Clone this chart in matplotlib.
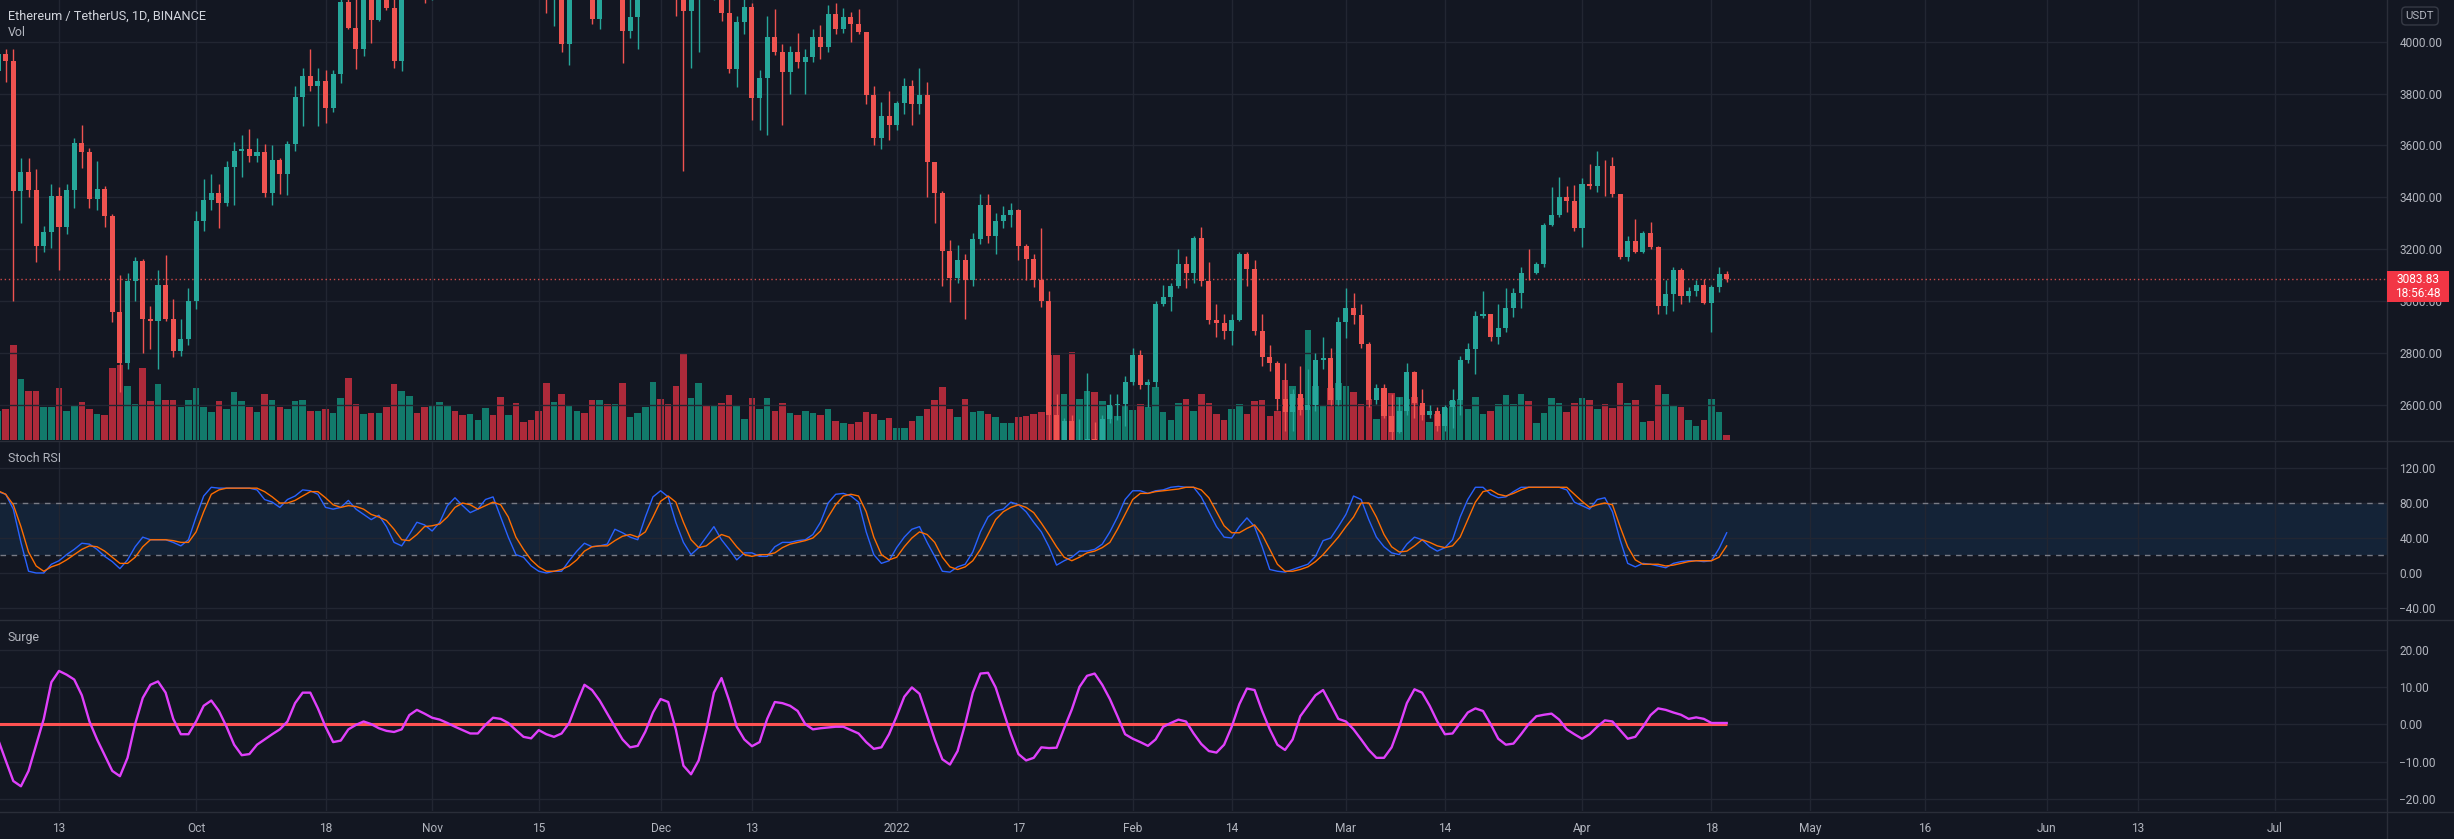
import numpy as np
import pandas as pd
import matplotlib
matplotlib.use("Agg")
import matplotlib.pyplot as plt
import matplotlib.dates as mdates
from matplotlib.patches import Rectangle
from matplotlib.lines import Line2D

# ---------------- DATA (ETH/USDT daily, 2021-09-05 .. 2022-04-20) ----------------
start_date = "2021-09-05"
end_date = "2022-04-20"

opens = [
    3887,3952,3927,3426,3497,3427,3211,3267,3407,3287,3427,3610,3573,3395,3432,3329,2958,2762,3077,3155,2930,2925,3062,2932,2807,2853,
    3001,3307,3391,3418,3380,3517,3580,3587,3560,3575,3415,3544,3490,3606,3788,3866,3829,3847,3745,3876,4155,4054,3973,4170,4083,4217,4131,3924,4287,4414,4325,
    4288,4324,4589,4603,4535,4475,4518,4611,4807,4730,4628,4720,4667,4647,4625,4561,4214,4290,3992,4294,4410,4264,4086,4337,4271,4523,4040,4096,4294,4444,
    4631,4586,4511,4220,4119,4198,4346,4308,4432,4110,3894,4075,4134,3784,3861,4020,3961,3885,3960,3922,3940,4019,3981,4108,4048,4094,4067,4036,3794,3627,3713,
    3677,3765,3829,3761,3794,3538,3418,3193,3090,3157,3083,3238,3372,3250,3310,3330,3350,3212,3163,3083,3001,2562,2406,2539,2441,2458,2467,2423,2546,2599,2603,
    2688,2791,2677,2690,2989,3015,3057,3142,3110,3242,3077,2927,2915,2883,2929,3180,3123,2885,2784,2763,2623,2572,2640,2581,2598,2774,2780,2617,
    2920,2972,2948,2834,2617,2664,2556,2496,2575,2727,2606,2559,2576,2519,2591,2620,2772,2815,2944,2949,2860,2896,2972,3031,3108,3107,3143,3295,3331,3400,3384,
    3282,3452,3444,3521,3519,3411,3170,3230,3190,3262,3210,2981,3029,3118,3019,3040,3061,2993,3055,3103,
]
highs = [
    3975,3970,3970,3550,3550,3510,3290,3450,3438,3450,3630,3680,3590,3540,3444,3337,3100,3110,3170,3163,2980,3120,3176,3008,2930,3050,
    3347,3470,3490,3450,3542,3615,3640,3665,3630,3607,3600,3550,3617,3829,3900,3970,3900,3890,3890,4180,4377,4173,4200,4175,4235,4295,4300,4300,4460,4415,4400,
    4380,4600,4666,4604,4560,4532,4630,4824,4838,4868,4778,4810,4705,4700,4770,4570,4300,4341,4340,4450,4457,4312,4390,4370,4550,4550,4180,4300,4460,4778,
    4778,4620,4650,4240,4238,4375,4430,4447,4490,4235,4100,4167,4150,3890,4100,4125,3990,3984,4035,3970,4048,4065,4140,4150,4130,4115,4127,4037,3828,3767,3809,
    3770,3860,3852,3900,3845,3538,3424,3236,3218,3180,3262,3412,3412,3340,3365,3380,3356,3220,3180,3280,3040,2640,2550,2560,2545,2723,2535,2560,2640,2640,2710,
    2820,2810,2700,3000,3063,3070,3200,3172,3250,3285,3150,2990,2950,2950,3190,3191,3160,2950,2830,2770,2760,2660,2750,2740,2800,2860,2820,2940,
    3050,3030,2990,2842,2680,2680,2640,2630,2760,2730,2660,2600,2590,2600,2660,2790,2840,2960,3040,2950,2990,3050,3050,3130,3200,3150,3300,3440,3480,3445,3446,
    3475,3530,3580,3545,3555,3412,3250,3317,3270,3305,3213,3080,3130,3128,3053,3080,3085,3063,3130,3115,
]
lows = [
    3850,3845,3000,3300,3400,3150,3190,3205,3120,3260,3358,3515,3360,3350,3284,2920,2651,2740,3000,2800,2816,2740,2925,2785,2790,2830,
    2970,3270,3350,3280,3365,3369,3477,3535,3536,3400,3370,3413,3410,3580,3676,3811,3675,3687,3730,3839,4050,3895,3945,3995,4080,4122,3900,3888,4260,4233,4150,
    4160,4301,4460,4430,4440,4330,4510,4600,4713,4475,4577,4520,4580,4520,4530,4110,4062,3960,3909,4230,4230,4070,4050,4170,4242,3918,4015,3970,4276,4420,
    4550,4430,4100,3500,3900,3960,4260,4160,4080,3880,3825,4030,3700,3660,3640,3950,3680,3800,3900,3800,3920,3935,3960,4030,4035,3998,4030,3760,3600,3585,3622,
    3660,3720,3680,3720,3400,3300,3060,2995,3070,2930,3058,3220,3224,3180,3280,3285,3160,3080,3055,2978,2450,2300,2320,2159,2390,2400,2350,2360,2530,2540,2520,
    2675,2660,2590,2670,2980,2960,3050,3050,3070,3060,2910,2860,2855,2830,2925,3060,2870,2750,2730,2580,2500,2500,2560,2300,2575,2740,2600,2600,
    2856,2910,2820,2590,2605,2550,2450,2490,2560,2550,2540,2550,2500,2500,2510,2560,2760,2720,2935,2845,2835,2880,2940,2975,3080,3105,3130,3290,3325,3345,3270,
    3210,3434,3422,3405,3400,3164,3155,3185,3185,3200,2950,2950,2960,2990,2995,3020,2990,2880,3035,3075,
]
closes = [
    3952,3927,3426,3497,3427,3211,3267,3407,3287,3427,3610,3573,3395,3432,3329,2958,2762,3077,3155,2930,2925,3062,2932,2807,2853,3001,
    3307,3391,3418,3380,3517,3580,3587,3560,3575,3415,3544,3490,3606,3788,3866,3829,3847,3745,3876,4155,4054,3973,4170,4083,4217,4131,3924,4287,4414,4325,4288,
    4324,4589,4603,4535,4475,4518,4611,4807,4730,4628,4720,4667,4647,4625,4561,4214,4290,3992,4294,4410,4264,4086,4337,4271,4523,4040,4096,4294,4444,4631,
    4586,4511,4220,4119,4198,4346,4308,4432,4110,3894,4075,4134,3784,3861,4020,3961,3885,3960,3922,3940,4019,3981,4108,4048,4094,4067,4036,3794,3627,3713,3677,
    3765,3829,3761,3794,3538,3418,3193,3090,3157,3083,3238,3372,3250,3310,3330,3350,3212,3163,3083,3001,2562,2406,2539,2441,2458,2467,2423,2546,2599,2603,2688,
    2791,2677,2690,2989,3015,3057,3142,3110,3242,3077,2927,2915,2883,2929,3180,3123,2885,2784,2763,2623,2572,2640,2581,2598,2774,2780,2617,2920,
    2972,2948,2834,2617,2664,2556,2496,2575,2727,2606,2559,2576,2519,2591,2620,2772,2815,2944,2949,2860,2896,2972,3031,3108,3107,3143,3295,3331,3400,3384,3282,
    3452,3444,3521,3519,3411,3170,3230,3190,3262,3210,2981,3029,3118,3019,3040,3061,2993,3055,3103,3083.83,
]
volumes = [  # thousand ETH
    570,600,1830,1180,950,950,630,630,1000,570,650,730,600,500,480,1400,1450,1050,700,1400,750,1080,780,780,630,780,
    1000,640,550,750,600,930,750,630,550,880,770,630,600,750,770,570,570,600,530,820,1200,700,500,530,530,630,1080,950,850,530,630,
    650,730,680,570,480,500,380,610,480,840,480,710,340,380,570,1100,730,880,650,570,530,780,770,690,690,1100,440,530,630,1120,
    790,690,1040,1680,820,1100,650,670,710,860,650,400,820,600,820,570,710,530,480,570,530,480,590,360,320,300,340,550,500,380,420,
    240,240,360,460,600,780,1030,600,440,800,550,570,510,440,320,320,440,460,510,540,1640,1640,880,1700,800,950,920,750,650,470,650,
    580,690,630,1030,550,380,710,800,570,880,710,510,380,590,690,500,750,770,460,570,1150,1050,820,2120,1050,650,1000,1100,
    1040,930,690,800,400,500,900,840,800,840,680,340,500,610,750,800,600,840,500,570,690,860,690,880,760,320,520,820,710,550,710,
    820,770,590,690,610,1110,710,770,340,360,1070,880,650,630,380,280,380,790,550,90,
]
stoch_k = [
    93,90,73,35,2,0,0,10,14,21,27,34,33,27,19,13,5,15,30,41,38,38,38,35,31,38,
    64,88,98,97,97,97,97,97,95,84,81,75,84,88,95,94,90,75,73,75,83,73,67,61,66,53,35,31,44,58,55,
    48,58,77,86,77,69,73,84,87,64,41,21,18,8,2,0,2,2,14,25,34,30,31,33,50,46,41,38,64,87,
    94,87,58,35,21,29,41,53,38,27,15,23,23,19,19,30,35,35,37,38,44,58,80,90,91,88,81,47,21,11,14,
    29,41,50,53,35,19,2,1,7,10,24,47,64,71,73,81,78,70,58,47,30,9,14,18,25,25,27,33,47,64,84,
    94,94,91,94,95,98,99,98,98,87,70,53,41,40,53,63,53,30,4,2,1,4,7,10,19,37,40,53,
    67,88,84,61,41,30,23,21,33,41,38,30,25,29,38,64,84,98,98,90,86,87,93,98,98,98,98,98,98,95,81,
    77,73,84,86,70,38,11,7,11,10,8,6,11,13,14,14,13,14,28,46,
]
stoch_d = [
    94,90,78,53,24,8,2,7,10,15,21,27,31,30,25,18,11,11,18,30,38,38,38,37,35,35,
    47,70,90,95,97,97,97,97,97,93,87,80,80,83,88,93,93,86,78,75,77,76,73,67,64,60,50,38,37,44,53,
    54,56,64,75,80,78,73,77,81,78,64,41,27,15,7,2,2,4,8,15,25,30,31,31,37,42,44,41,47,64,
    82,88,81,58,38,29,31,38,44,41,30,21,19,21,21,23,29,33,35,37,40,48,64,78,88,90,88,70,41,21,15,
    18,30,40,47,44,35,18,7,4,7,14,27,44,61,70,75,78,75,69,57,44,30,18,14,18,23,25,29,35,50,67,
    84,91,91,93,94,95,96,98,98,95,86,70,54,46,46,51,55,44,27,10,2,2,4,7,13,21,31,41,
    53,64,80,80,64,44,30,24,25,31,38,35,31,29,31,41,61,81,93,95,90,88,91,95,98,98,98,98,98,98,90,
    82,75,78,80,78,53,30,15,10,10,10,8,9,11,13,14,14,14,18,31,
]
surge = [
    -4,-9.6,-15.1,-16.5,-12.4,-5.4,1.5,11.3,14.3,13.3,12,7.8,0.8,-4,-8.2,-12.4,-13.8,-8.9,0.1,7.1,10.6,11.5,8.5,1.5,-2.6,-2.6,
    0.8,5,6.4,3.6,-0.6,-5.4,-8.2,-7.9,-5.4,-4,-2.6,-1.3,0.8,5.7,8.5,8.5,4.3,-0.6,-4.7,-4.3,-1.3,-0.1,0.8,0.1,-1,-1.7,-2,-1.3,2.5,3.9,2.9,
    1.8,1.3,0.4,-0.6,-1.5,-2.4,-2.4,-0.1,1.8,1.5,0.4,-1.5,-3.3,-3.7,-1.5,-2.6,-3.3,-2.4,0.4,5.7,10.6,9.2,6.4,2.9,-0.6,-4,-6.1,-5.7,-1.9,3.2,
    6.8,6,-1.3,-11,-13.3,-9.6,-1.3,8.5,12.4,6.4,-0.6,-4,-5.8,-4.7,1.5,6,5.7,5,3.6,0.1,-1.3,-1,-0.8,-0.6,-0.6,-1.5,-2.4,-4.7,-6.5,-6.1,-2.6,
    2.2,7.4,9.9,8.2,2.2,-4,-9.3,-10.7,-7.1,0.1,8.5,13.6,13.8,9.9,3.6,-2.6,-7.9,-9.6,-8.9,-6.1,-6.3,-6.2,-1,4,10,13,13.6,10.6,6.8,2.2,-2.6,
    -3.8,-4.7,-5.7,-4,-0.6,0.4,1.3,0.8,-2.4,-5.2,-7.1,-7.5,-5.4,-0.6,5.4,9.6,9.2,3.6,-1.3,-5.4,-6.8,-4,2.2,5,7.8,9.2,5.4,1.5,
    0.8,-1.3,-4,-6.8,-8.9,-8.9,-6.1,-0.6,5.7,9.4,8.5,5,0.8,-2.6,-2.4,0.4,3.2,4.3,3.6,0.1,-3.8,-5.4,-5.1,-2.6,0.1,2.2,2.6,2.9,1.3,-1.3,-2.6,
    -3.8,-2.6,-0.6,1.1,0.8,-1.5,-3.8,-3.3,-0.6,2.5,4.3,3.9,3.2,2.6,1.5,1.9,1.5,0.4,0.4,0.4,
]

price_ticks = [2600, 2800, 3000, 3200, 3400, 3600, 3800, 4000]
stoch_ticks = [-40, 0, 40, 80, 120]
surge_ticks = [-20, -10, 0, 10, 20]
time_tick_dates = ["2021-09-13", "2021-10-01", "2021-10-18", "2021-11-01", "2021-11-15",
                   "2021-12-01", "2021-12-13", "2022-01-01", "2022-01-17", "2022-02-01",
                   "2022-02-14", "2022-03-01", "2022-03-14", "2022-04-01", "2022-04-18",
                   "2022-05-01", "2022-05-16", "2022-06-01", "2022-06-13", "2022-07-01"]
time_tick_labels = ["13", "Oct", "18", "Nov", "15", "Dec", "13", "2022", "17", "Feb",
                    "14", "Mar", "14", "Apr", "18", "May", "16", "Jun", "13", "Jul"]
last_price_label = "3083.83"
countdown_label = "18:56:48"

# ---------------- STYLE ----------------
BG = "#131722"
GRID = "#222632"
SEP = "#2a2e39"
TXT = "#b2b5be"
UP = "#26a69a"
DN = "#ef5350"
VUP = "#127a6b"
VDN = "#ad2a3a"
FONT = ["Roboto", "DejaVu Sans"]
FS = 8.6
plt.rcParams["font.family"] = FONT

W, H = 2454, 839
PR = 2387  # right edge of plotting area (px)
fig = plt.figure(figsize=(W / 100, H / 100), dpi=100)
fig.patch.set_facecolor(BG)


def rect(top, bottom):
    return [0, 1 - bottom / H, PR / W, (bottom - top) / H]


dates = pd.date_range(start_date, end_date, freq="D")
x = mdates.date2num(dates)
o = np.array(opens, float)
h = np.array(highs, float)
l = np.array(lows, float)
c = np.array(closes, float)
v = np.array(volumes, float)
up = c >= o

ref = mdates.date2num(pd.Timestamp("2021-09-13"))
ppd = 7.615
xlim = (ref - 59 / ppd, ref + (PR - 59) / ppd)
tick_x = mdates.date2num(pd.to_datetime(time_tick_dates))

ax_v = fig.add_axes(rect(0, 440))
ax_p = fig.add_axes(rect(0, 440), sharex=ax_v)
ax_s = fig.add_axes(rect(441, 619), sharex=ax_v)
ax_g = fig.add_axes(rect(620, 811), sharex=ax_v)
ax_v.set_zorder(1)
ax_p.set_zorder(2)
ax_p.patch.set_visible(False)

for ax in (ax_v, ax_p, ax_s, ax_g):
    for s in ax.spines.values():
        s.set_visible(False)
    ax.set_xlim(*xlim)
    ax.set_xticks(tick_x)
    ax.tick_params(axis="both", length=0, colors=TXT, labelsize=FS)
for ax in (ax_v, ax_s, ax_g):
    ax.set_facecolor(BG)
    ax.grid(axis="x", color=GRID, lw=1)
for ax in (ax_v, ax_p, ax_s):
    ax.tick_params(axis="x", labelbottom=False)

# ---- volume ----
ax_v.bar(x, v, width=0.86, color=np.where(up, VUP, VDN), linewidth=0)
ax_v.set_ylim(0, 1830 * 440 / 94.7)
ax_v.set_yticks([])

# ---- price ----
ax_p.set_ylim(2464.5, 4160.8)
ax_p.yaxis.tick_right()
ax_p.set_yticks(price_ticks)
ax_p.set_yticklabels([f"{t:.2f}" for t in price_ticks])
ax_p.tick_params(axis="y", pad=9)
ax_p.grid(axis="y", color=GRID, lw=1)
cols = np.where(up, UP, DN)
ax_p.vlines(x, l, h, colors=cols, lw=1, zorder=3)
body_lo = np.minimum(o, c)
body_h = np.maximum(np.abs(c - o), 2.5)
ax_p.bar(x, body_h, bottom=body_lo, width=0.66, color=cols, linewidth=0, zorder=4)
ax_p.axhline(c[-1], color=DN, lw=1, ls=(0, (1, 2)), alpha=0.85, zorder=2)

# ---- stoch rsi ----
ax_s.set_ylim(-52.6, 150.9)
ax_s.yaxis.tick_right()
ax_s.set_yticks(stoch_ticks)
ax_s.set_yticklabels([f"{t:.2f}".replace("-", "\u2212") for t in stoch_ticks])
ax_s.tick_params(axis="y", pad=9)
ax_s.grid(axis="y", color=GRID, lw=1)
ax_s.axhspan(20, 80, color="#2196f3", alpha=0.1, lw=0)
ax_s.axhline(80, color="#787b86", lw=1, ls=(0, (4, 4)))
ax_s.axhline(20, color="#787b86", lw=1, ls=(0, (4, 4)))
ax_s.plot(x, stoch_k, color="#2962ff", lw=1.0, zorder=3)
ax_s.plot(x, stoch_d, color="#ff6d00", lw=1.0, zorder=3)

# ---- surge ----
ax_g.set_ylim(-23.1, 27.9)
ax_g.yaxis.tick_right()
ax_g.set_yticks(surge_ticks)
ax_g.set_yticklabels([f"{t:.2f}".replace("-", "\u2212") for t in surge_ticks])
ax_g.tick_params(axis="y", pad=9)
ax_g.grid(axis="y", color=GRID, lw=1)
ax_g.hlines(0, x[0], x[-1], color="#ff5252", lw=2.2, zorder=3)
ax_g.plot(x, surge, color="#e040fb", lw=1.7, zorder=4)
ax_g.set_xticklabels(time_tick_labels)
ax_g.tick_params(axis="x", pad=8)

# ---- separators ----
def hline_px(y):
    fig.add_artist(Line2D([0, 1], [1 - y / H, 1 - y / H], color=SEP, lw=1, transform=fig.transFigure))


hline_px(440.5)
hline_px(619.5)
hline_px(811.5)
fig.add_artist(Line2D([PR / W, PR / W], [0, 1], color=SEP, lw=1, transform=fig.transFigure))

# ---- texts ----
fig.text(8 / W, 1 - 16 / H, "Ethereum / TetherUS, 1D, BINANCE", color="#d1d4dc", fontsize=FS + 0.6, va="center")
fig.text(8 / W, 1 - 33 / H, "Vol", color=TXT, fontsize=FS + 0.3, va="center")
fig.text(8 / W, 1 - 458 / H, "Stoch RSI", color=TXT, fontsize=FS + 0.3, va="center")
fig.text(8 / W, 1 - 638 / H, "Surge", color=TXT, fontsize=FS + 0.3, va="center")
fig.text(2420 / W, 1 - 16 / H, "USDT", color=TXT, fontsize=FS - 0.4, ha="center", va="center",
         bbox=dict(boxstyle="round,pad=0.35", fc=BG, ec="#363a45", lw=1))

# last price box (positioned from the price axis transform)
fig.canvas.draw()
yd = ax_p.transData.transform((x[-1], c[-1]))[1]
yf = yd / H
fig.add_artist(Rectangle((PR / W, yf - 23 / H), 62 / W, 31 / H,
                         transform=fig.transFigure, facecolor="#f23645", edgecolor="none", zorder=10))
fig.text(2418 / W, yf, last_price_label, color="white", fontsize=FS, ha="center", va="center", zorder=11)
fig.text(2418 / W, yf - 14 / H, countdown_label, color="white", fontsize=FS, ha="center", va="center", zorder=11)

fig.savefig("out.png", dpi=100, facecolor=BG)
